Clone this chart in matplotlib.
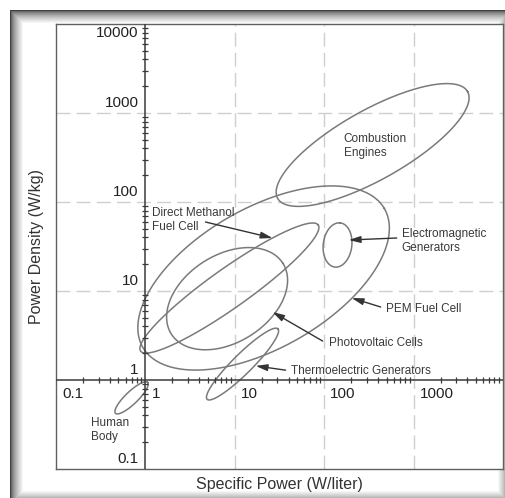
import numpy as np
import matplotlib
matplotlib.use('Agg')
import matplotlib.pyplot as plt
from matplotlib.patches import Rectangle

plt.rcParams['font.family'] = ['Liberation Sans', 'DejaVu Sans']
plt.rcParams['lines.scale_dashes'] = False

# regions (ellipses in log-log space)
names = ['Combustion Engines', 'PEM Fuel Cell', 'Direct Methanol Fuel Cell',
         'Photovoltaic Cells', 'Thermoelectric Generators',
         'Electromagnetic Generators', 'Human Body']
center_power = [348, 21, 8.7, 8.2, 12.2, 141, 0.70]      # W/liter
center_density = [437, 14, 10.8, 8.2, 1.51, 32.9, 0.63]  # W/kg
major_dec = [1.22, 1.56, 1.22, 0.74, 0.56, 0.25, 0.25]   # semi-axes, decades
minor_dec = [0.39, 0.785, 0.22, 0.49, 0.11, 0.16, 0.07]
tilt_deg = [29.5, 30, 35.5, 32.7, 45, 83, 44]

decades = [0.1, 1, 10, 100, 1000, 10000]
x_ticklabels = ['0.1', '1', '10', '100', '1000']
y_ticklabels = ['0.1', '1', '10', '100', '1000', '10000']

W, H = 505, 498
fig = plt.figure(figsize=(W / 100, H / 100), dpi=100)
fig.patch.set_facecolor('white')


def fx(px):
    return px / W


def fy(py):
    return 1 - py / H


# inner-shadow frame: nested filled boxes, dark outside -> white inside
n = 14
for k in range(n):
    lvl = 0.25 + 0.75 * (k / (n - 1)) ** 0.6
    left, top, right, bottom = 10 + k, 10 + k, 511 - k, 504 - k
    fig.add_artist(Rectangle((fx(left), fy(bottom)), (right - left) / W, (bottom - top) / H,
                             transform=fig.transFigure, facecolor=(lvl, lvl, lvl),
                             edgecolor='none', zorder=0))

ax = fig.add_axes([fx(56), fy(469), fx(503) - fx(56), fy(24) - fy(469)])
ax.set_xscale('log')
ax.set_yscale('log')
ax.set_xlim(0.1, 1e4)
ax.set_ylim(0.1, 1e4)
ax.tick_params(which='both', bottom=False, left=False, labelbottom=False, labelleft=False)
for s in ax.spines.values():
    s.set_color('#606060')
    s.set_linewidth(1.0)

# dashed grid
for d in [10, 100, 1000]:
    ax.axvline(d, color='#cfcfcf', lw=1.0, dashes=(10, 4.5), zorder=1)
    ax.axhline(d, color='#cfcfcf', lw=1.0, dashes=(10, 4.5), zorder=1)

# central axes crossing at (1, 1)
ax.axvline(1, color='#3a3a3a', lw=1.1, zorder=3)
ax.axhline(1, color='#3a3a3a', lw=1.1, zorder=3)
minor = [m * d for d in decades[:-1] for m in range(2, 10)]
ax.plot([1] * len(minor), minor, ls='none', marker='_', ms=5, mew=0.9, color='#3a3a3a', zorder=3)
ax.plot(minor, [1] * len(minor), ls='none', marker='|', ms=5, mew=0.9, color='#3a3a3a', zorder=3)

for lab, d in zip(x_ticklabels, decades):
    ax.annotate(lab, (d, 1), xytext=(6, -14), textcoords='offset pixels',
                ha='left', va='center', fontsize=11, color='#222222')
for lab, d in zip(y_ticklabels, decades):
    off = -9 if d == 10000 else 10
    ax.annotate(lab, (1, d), xytext=(-7, off), textcoords='offset pixels',
                ha='right', va='center', fontsize=11, color='#222222')

# ellipses
t = np.linspace(0, 2 * np.pi, 400)
for cx, cy, a, b, th in zip(center_power, center_density, major_dec, minor_dec, tilt_deg):
    r = np.radians(th)
    lx = np.log10(cx) + a * np.cos(t) * np.cos(r) - b * np.sin(t) * np.sin(r)
    ly = np.log10(cy) + a * np.cos(t) * np.sin(r) + b * np.sin(t) * np.cos(r)
    ax.plot(10 ** lx, 10 ** ly, color='#7a7a7a', lw=1.1, zorder=2)

tc = '#3a3a3a'
fs = 8.5
ax.text(165, 426, 'Combustion\nEngines', fontsize=fs, color=tc, ha='left', va='center', linespacing=1.25)
ax.text(1.2, 62.8, 'Direct Methanol\nFuel Cell', fontsize=fs, color=tc, ha='left', va='center', linespacing=1.25)
ax.text(736, 36.5, 'Electromagnetic\nGenerators', fontsize=fs, color=tc, ha='left', va='center', linespacing=1.25)
ax.text(487, 6.28, 'PEM Fuel Cell', fontsize=fs, color=tc, ha='left', va='center')
ax.text(112, 2.6, 'Photovoltaic Cells', fontsize=fs, color=tc, ha='left', va='center')
ax.text(42, 1.26, 'Thermoelectric Generators', fontsize=fs, color=tc, ha='left', va='center')
ax.text(0.248, 0.274, 'Human\nBody', fontsize=fs, color=tc, ha='left', va='center', linespacing=1.25)

arrows = [((4.7, 59.6), (26.4, 39.4)),
          ((647, 39.4), (188, 37.4)),
          ((428, 6.61), (203, 8.34)),
          ((96, 2.74), (26.4, 5.81)),
          ((37, 1.29), (17.1, 1.44))]
for tail, tip in arrows:
    ax.annotate('', xy=tip, xytext=tail,
                arrowprops=dict(arrowstyle='-|>,head_length=0.7,head_width=0.2',
                                color='#333333', lw=1.0, shrinkA=0, shrinkB=0))

fig.text(fx(279), fy(484), 'Specific Power (W/liter)', ha='center', va='center', fontsize=11.5, color='#333333')
fig.text(fx(37), fy(247), 'Power Density (W/kg)', ha='center', va='center', rotation=90, fontsize=11.5, color='#333333')

fig.savefig('out.png', dpi=100)
